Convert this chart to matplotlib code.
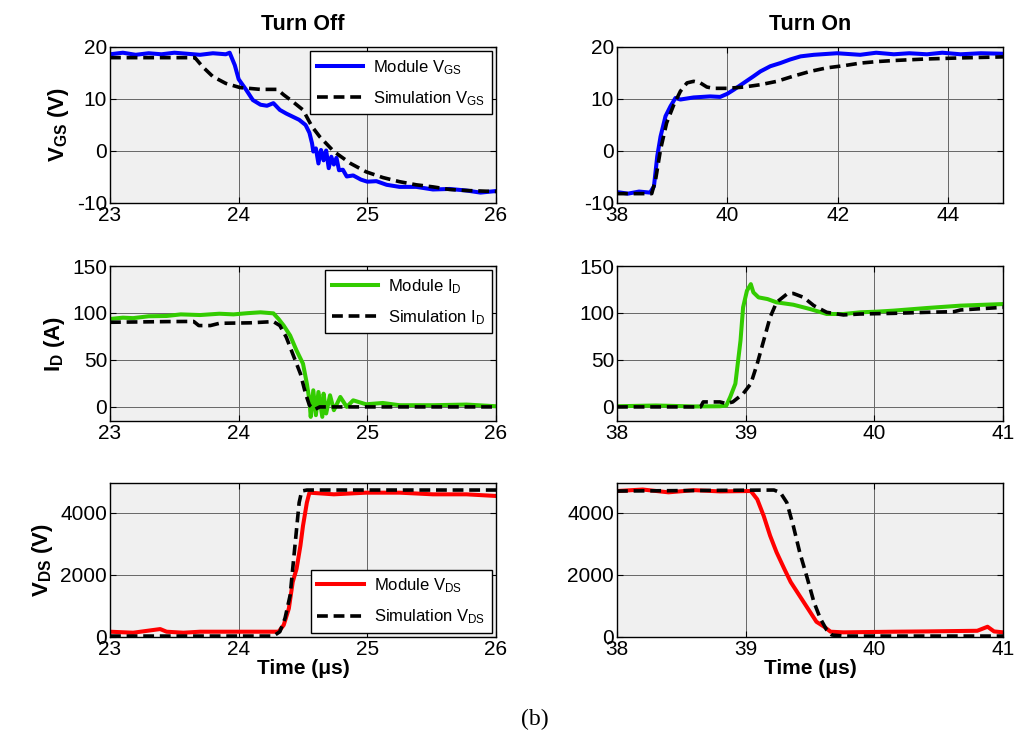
import matplotlib
matplotlib.use('Agg')
import matplotlib.pyplot as plt

plt.rcParams['font.family'] = ['Liberation Sans', 'DejaVu Sans']
plt.rcParams['mathtext.fontset'] = 'custom'
plt.rcParams['mathtext.rm'] = 'Liberation Sans'
plt.rcParams['mathtext.it'] = 'Liberation Sans:italic'
plt.rcParams['mathtext.bf'] = 'Liberation Sans:bold'
plt.rcParams['axes.unicode_minus'] = False

# ---- Turn off, V_GS ----
off_vgs_t = [23.0, 23.1, 23.2, 23.3, 23.4, 23.5, 23.6, 23.7, 23.8, 23.9, 23.93, 23.97, 24.0, 24.06,
             24.11, 24.17, 24.22, 24.27, 24.32, 24.37, 24.42, 24.47, 24.52, 24.55, 24.57, 24.58, 24.6,
             24.62, 24.64, 24.66, 24.68, 24.7, 24.72, 24.74, 24.76, 24.78, 24.81, 24.84, 24.89, 24.95,
             25.0, 25.07, 25.15, 25.25, 25.38, 25.51, 25.64, 25.77, 25.88, 26.0]
off_vgs_mod = [18.6, 18.9, 18.5, 18.8, 18.6, 18.9, 18.7, 18.5, 18.8, 18.6, 18.9, 16.5, 13.8, 11.7,
               9.8, 8.9, 8.7, 9.2, 7.9, 7.2, 6.6, 6.0, 5.0, 3.5, 1.5, -0.1, 0.5,
               -2.4, 0.2, -1.8, 0.1, -3.3, -1.1, -2.6, -1.3, -3.7, -3.6, -4.9, -4.7, -5.5,
               -5.9, -5.8, -6.5, -6.9, -6.9, -7.4, -7.3, -7.6, -8.0, -7.7]
off_vgs_sim_t = [23.0, 23.66, 23.72, 23.8, 23.9, 24.01, 24.17, 24.3, 24.35, 24.42, 24.5, 24.57, 24.63,
                 24.74, 24.87, 24.99, 25.12, 25.25, 25.38, 25.51, 25.64, 25.77, 26.0]
off_vgs_sim = [17.95, 17.95, 16.2, 14.3, 13.0, 12.2, 11.85, 11.85, 10.8, 9.5, 7.9, 4.7, 2.75,
               -0.1, -2.4, -4.0, -5.1, -5.9, -6.5, -6.9, -7.4, -7.6, -7.8]

# ---- Turn on, V_GS ----
on_vgs_t = [38.0, 38.2, 38.4, 38.6, 38.67, 38.73, 38.79, 38.88, 38.97, 39.06, 39.15, 39.39, 39.69,
            39.87, 40.0, 40.12, 40.3, 40.48, 40.6, 40.78, 40.96, 41.14, 41.33, 41.57, 41.99, 42.41,
            42.7, 43.02, 43.3, 43.62, 43.9, 44.23, 44.6, 45.0]
on_vgs_mod = [-7.9, -8.2, -7.8, -8.0, -6.8, -1.0, 2.8, 6.7, 8.6, 10.2, 9.9, 10.3, 10.5,
              10.4, 11.0, 11.8, 13.1, 14.4, 15.3, 16.3, 16.9, 17.6, 18.2, 18.5, 18.8, 18.5,
              18.9, 18.6, 18.8, 18.6, 18.9, 18.6, 18.8, 18.7]
on_vgs_sim_t = [38.0, 38.63, 38.7, 38.79, 38.9, 39.03, 39.15, 39.27, 39.39, 39.51, 39.63, 39.75, 40.0,
                40.3, 40.6, 40.9, 41.2, 41.5, 41.81, 42.11, 42.41, 42.72, 43.02, 43.62, 44.23, 45.0]
on_vgs_sim = [-8.2, -8.2, -5.5, 0.3, 5.4, 8.9, 11.5, 13.1, 13.4, 13.1, 12.3, 12.05, 12.05,
              12.3, 12.75, 13.4, 14.4, 15.3, 16.0, 16.4, 16.9, 17.2, 17.4, 17.7, 17.9, 18.1]

# ---- Turn off, I_D ----
off_id_t = [23.0, 23.1, 23.18, 23.3, 23.44, 23.55, 23.7, 23.85, 23.96, 24.07, 24.17, 24.27, 24.31,
            24.35, 24.4, 24.45, 24.5, 24.53, 24.55, 24.56, 24.58, 24.6, 24.62, 24.65, 24.66, 24.68,
            24.71, 24.74, 24.79, 24.84, 24.89, 24.99, 25.12, 25.25, 25.51, 25.77, 26.0]
off_id_mod = [93.6, 95.0, 94.5, 96.5, 96.8, 98.5, 97.8, 99.2, 98.5, 99.8, 100.7, 99.6, 93.6,
              86.6, 76.0, 60.0, 46.0, 24.7, 7.0, -10.6, 17.7, -8.8, 15.9, -10.6, 14.1, -7.0,
              12.4, -3.5, 10.6, 0.0, 7.0, 2.8, 4.2, 1.8, 1.8, 2.5, 0.7]
off_id_sim_t = [23.0, 23.44, 23.65, 23.69, 23.78, 23.85, 24.09, 24.27, 24.32, 24.37, 24.42, 24.48,
                24.52, 24.55, 24.59, 24.63, 26.0]
off_id_sim = [90.1, 90.8, 91.0, 86.6, 86.6, 89.0, 89.5, 90.8, 86.6, 74.2, 56.5, 35.3,
              14.1, 1.8, -2.8, 0.0, 0.0]

# ---- Turn on, I_D ----
on_id_t = [38.0, 38.3, 38.6, 38.8, 38.85, 38.88, 38.92, 38.96, 38.98, 39.01, 39.04, 39.06, 39.1,
           39.17, 39.24, 39.37, 39.5, 39.63, 39.76, 39.89, 40.02, 40.15, 40.41, 40.67, 41.0]
on_id_mod = [0.7, 1.5, 0.5, 0.7, 1.5, 10.6, 24.7, 70.7, 106.0, 123.7, 130.7, 121.9, 116.6,
             114.8, 111.3, 108.8, 104.2, 98.9, 98.9, 100.7, 101.4, 102.5, 105.3, 107.8, 109.5]
on_id_sim_t = [38.0, 38.65, 38.67, 38.8, 38.85, 38.9, 38.98, 39.04, 39.09, 39.14, 39.19, 39.24,
               39.32, 39.37, 39.45, 39.53, 39.63, 39.76, 39.89, 40.15, 40.41, 40.62, 40.67, 41.0]
on_id_sim = [0.0, 0.0, 5.3, 5.3, 3.5, 5.3, 14.0, 24.7, 46.0, 70.7, 95.4, 111.3,
             120.1, 120.8, 116.6, 107.8, 100.7, 97.9, 98.9, 99.6, 100.7, 101.4, 103.2, 106.0]

# ---- Turn off, V_DS ----
off_vds_t = [23.0, 23.18, 23.39, 23.44, 23.57, 23.7, 23.96, 24.22, 24.31, 24.35, 24.39, 24.42,
             24.45, 24.48, 24.5, 24.53, 24.55, 24.74, 24.99, 25.25, 25.51, 25.77, 26.0]
off_vds_mod = [170, 138, 255, 170, 138, 170, 170, 170, 170, 383, 915, 1766,
               2192, 2937, 3575, 4320, 4639, 4586, 4639, 4639, 4586, 4586, 4533]
off_vds_sim_t = [23.0, 24.27, 24.32, 24.36, 24.4, 24.42, 24.45, 24.47, 24.49, 24.53, 26.0]
off_vds_sim = [30, 30, 170, 596, 1340, 2192, 3469, 4320, 4692, 4724, 4724]

# ---- Turn on, V_DS ----
on_vds_t = [38.0, 38.2, 38.4, 38.6, 38.8, 39.04, 39.09, 39.14, 39.19, 39.24, 39.3, 39.35, 39.4,
            39.45, 39.5, 39.55, 39.61, 39.66, 39.76, 40.15, 40.41, 40.8, 40.88, 40.93, 41.0]
on_vds_mod = [4692, 4740, 4650, 4720, 4680, 4692, 4426, 3894, 3256, 2724, 2192, 1766, 1447,
              1128, 809, 489, 330, 170, 150, 170, 180, 200, 330, 180, 150]
on_vds_sim_t = [38.0, 39.22, 39.27, 39.32, 39.37, 39.42, 39.48, 39.53, 39.58, 39.63, 39.67, 39.76, 41.0]
on_vds_sim = [4692, 4724, 4639, 4320, 3575, 2724, 1873, 1128, 596, 223, 64, 30, 30]

fig = plt.figure(figsize=(10.16, 7.36), dpi=100)

lefts = [110 / 1016, 617 / 1016]
width = 386 / 1016
rows = [(203, 156), (421, 155), (637, 154)]

panels = [
    # row, col, t_mod, mod, t_sim, sim, colour, quantity, xlim, xticks, ylim, yticks, legend loc
    (0, 0, off_vgs_t, off_vgs_mod, off_vgs_sim_t, off_vgs_sim, '#0000ff', 'V_GS', (23, 26), [23, 24, 25, 26], (-10, 20), [-10, 0, 10, 20], 'upper right'),
    (0, 1, on_vgs_t, on_vgs_mod, on_vgs_sim_t, on_vgs_sim, '#0000ff', 'V_GS', (38, 45), [38, 40, 42, 44], (-10, 20), [-10, 0, 10, 20], None),
    (1, 0, off_id_t, off_id_mod, off_id_sim_t, off_id_sim, '#33cc00', 'I_D', (23, 26), [23, 24, 25, 26], (-15, 150), [0, 50, 100, 150], 'upper right'),
    (1, 1, on_id_t, on_id_mod, on_id_sim_t, on_id_sim, '#33cc00', 'I_D', (38, 41), [38, 39, 40, 41], (-15, 150), [0, 50, 100, 150], None),
    (2, 0, off_vds_t, off_vds_mod, off_vds_sim_t, off_vds_sim, '#ff0000', 'V_DS', (23, 26), [23, 24, 25, 26], (0, 4950), [0, 2000, 4000], 'lower right'),
    (2, 1, on_vds_t, on_vds_mod, on_vds_sim_t, on_vds_sim, '#ff0000', 'V_DS', (38, 41), [38, 39, 40, 41], (0, 4950), [0, 2000, 4000], None),
]
ylabels = [r'V$_{\mathbf{GS}}$ (V)', r'I$_{\mathbf{D}}$ (A)', r'V$_{\mathbf{DS}}$ (V)']

for row, col, tm, vm, ts, vs, colour, q, xl, xt, yl, yt, loc in panels:
    sym, sub = q.split('_')
    bot, h = rows[row]
    ax = fig.add_axes([lefts[col], 1 - bot / 736, width, h / 736])
    ax.set_facecolor('#f0f0f0')
    ax.plot(tm, vm, color=colour, lw=2.9, label=r'Module %s$_{\rm %s}$' % (sym, sub))
    ax.plot(ts, vs, color='black', lw=2.6, ls=(0, (3, 1.6)),
            label=r'Simulation %s$_{\rm %s}$' % (sym, sub))
    ax.set_xlim(xl)
    ax.set_ylim(yl)
    ax.set_xticks(xt)
    ax.set_yticks(yt)
    ax.grid(True, color='0.4', lw=0.7)
    ax.tick_params(direction='in', top=True, right=True, labelsize=15, length=4, pad=2)
    for s in ax.spines.values():
        s.set_linewidth(1.0)
    if col == 0:
        ax.set_ylabel(ylabels[row], fontsize=16, fontweight='bold', labelpad=4)
    if row == 0:
        ax.set_title('Turn Off' if col == 0 else 'Turn On', fontsize=15.5, fontweight='bold', pad=12)
    if row == 2:
        ax.set_xlabel('Time (\u03bcs)', fontsize=15, fontweight='bold', labelpad=0)
    if loc:
        leg = ax.legend(loc=loc, fontsize=12, handlelength=2.8, borderaxespad=0.25,
                        fancybox=False, framealpha=1, edgecolor='black', labelspacing=0.75,
                        handletextpad=0.6)
        leg.get_frame().set_linewidth(1.0)

fig.text(535 / 1016, 1 - 719 / 736, '(b)', fontsize=17, family='Liberation Serif', ha='center', va='center')

fig.savefig('out.png', dpi=100)
